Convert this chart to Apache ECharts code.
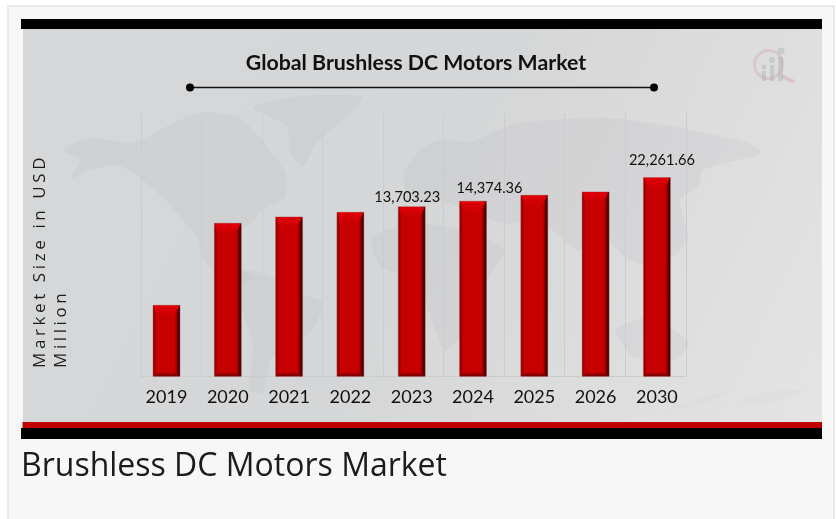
<!DOCTYPE html>
<html>
<head>
<meta charset="utf-8">
<title>Brushless DC Motors Market</title>
<script src="https://cdn.jsdelivr.net/npm/echarts@6/dist/echarts.min.js"></script>
<style>
  html, body { margin: 0; padding: 0; background: #fff; }
  #main { position: absolute; left: 0; top: 0; width: 836px; height: 519px; }
  .ytitle {
    position: absolute; left: 0; top: 0; white-space: nowrap;
    font: 17px "Open Sans", sans-serif; letter-spacing: 3.6px; color: #1c1c1c;
    transform-origin: 0 0; transform: rotate(-90deg);
  }
  .caption {
    position: absolute; left: 21px; top: 442px; white-space: nowrap;
    font: 32px "Open Sans", sans-serif; color: #1c1c1c;
  }
</style>
</head>
<body>
<div id="main"></div>
<div class="ytitle" style="left:27px;top:368px">Market Size in USD</div>
<div class="ytitle" style="left:48px;top:368px">Million</div>
<div class="caption">Brushless DC Motors Market</div>
<script>
const years = ['2019', '2020', '2021', '2022', '2023', '2024', '2025', '2026', '2030']
// the axis anchored on 2030. the printed labels of the
// source do not follow its bar heights, so they are kept apart
const barValues = [7960, 17150, 17860, 18380, 19010, 19620, 20290, 20660, 22261.66]
const printedLabels = ['', '', '', '', '13,703.23', '14,374.36', '', '', '22,261.66']

// label nudges from the bar centre, dx and gap above the bar top
const labelNudge = { 4: [-4.5, 9.5], 5: [16.5, 12.5], 8: [5, 17.5] }

const mapShapes = [
  // north america
  [[63,150],[90,138],[130,143],[150,136],[175,122],[205,112],[240,118],[262,140],[285,172],[285,197],[262,210],[253,222],[232,236],[222,252],[226,266],[252,276],[244,284],[222,276],[205,262],[197,238],[170,205],[143,180],[118,165],[90,170],[72,178],[80,160]],
  // greenland
  [[253,107],[300,96],[363,97],[345,118],[317,143],[303,167],[290,153],[287,127]],
  // south america
  [[240,270],[270,276],[300,293],[323,303],[310,333],[273,357],[262,393],[250,390],[253,343],[240,303]],
  // eurasia
  [[404,173],[420,150],[441,140],[470,142],[519,123],[611,118],[680,128],[749,143],[762,153],[703,170],[698,187],[680,200],[688,240],[657,267],[625,257],[597,230],[579,250],[542,223],[501,223],[441,200],[409,203]],
  // africa
  [[372,237],[418,223],[473,233],[505,250],[487,280],[473,323],[446,350],[427,307],[418,280],[381,267]],
  // australia
  [[615,330],[652,317],[689,343],[675,360],[634,357]]
]

const myChart = echarts.init(document.getElementById('main'))

const graphics = [
  { type: 'rect', z: -20, shape: { x: 7, y: 5, width: 828, height: 514 }, style: { fill: '#e9e9e9' } },
  { type: 'rect', z: -19, shape: { x: 9, y: 7, width: 824, height: 512 }, style: { fill: '#f7f7f7' } },
  {
    type: 'rect', z: -18,
    shape: { x: 23, y: 29, width: 799, height: 394 },
    style: {
      fill: new echarts.graphic.LinearGradient(0, 0, 1, 1, [
        { offset: 0, color: '#d6d7d8' },
        { offset: 0.5, color: '#d5d6d7' },
        { offset: 1, color: '#e4e4e4' }
      ])
    }
  },
  { type: 'polygon', z: -17, shape: { points: [[690, 400], [735, 390], [705, 405], [665, 410]] }, style: { fill: 'rgba(215,215,215,0.3)' } },
  { type: 'polygon', z: -17, shape: { points: [[765, 391], [805, 390], [770, 404], [735, 404]] }, style: { fill: 'rgba(215,215,215,0.3)' } },
  { type: 'rect', z: 5, shape: { x: 21, y: 19, width: 801, height: 10 }, style: { fill: '#000' } },
  { type: 'rect', z: 5, shape: { x: 22.5, y: 422, width: 799.5, height: 6 }, style: { fill: '#c00000' } },
  { type: 'rect', z: 5, shape: { x: 21, y: 428, width: 801, height: 11 }, style: { fill: '#000' } },
  { type: 'line', z: 5, shape: { x1: 190, y1: 87.5, x2: 654, y2: 87.5 }, style: { stroke: '#111', lineWidth: 1.5 } },
  { type: 'circle', z: 5, shape: { cx: 190, cy: 87.5, r: 4 }, style: { fill: '#000' } },
  { type: 'circle', z: 5, shape: { cx: 654, cy: 87.5, r: 4 }, style: { fill: '#000' } },
  // logo
  { type: 'circle', z: -15, shape: { cx: 768.5, cy: 64.5, r: 14 }, style: { fill: 'none', stroke: 'rgba(205,140,140,0.25)', lineWidth: 3 } },
  { type: 'line', z: -15, shape: { x1: 782, y1: 76, x2: 794, y2: 82 }, style: { stroke: 'rgba(205,140,140,0.3)', lineWidth: 4 } },
  { type: 'rect', z: -14, shape: { x: 762, y: 71, width: 4, height: 10 }, style: { fill: 'rgba(160,163,168,0.35)' } },
  { type: 'rect', z: -14, shape: { x: 770, y: 65, width: 4.5, height: 16 }, style: { fill: 'rgba(160,163,168,0.35)' } },
  { type: 'rect', z: -14, shape: { x: 778, y: 57, width: 5, height: 24 }, style: { fill: 'rgba(160,163,168,0.35)' } },
  { type: 'circle', z: -14, shape: { cx: 764, cy: 67, r: 2.5 }, style: { fill: 'rgba(160,163,168,0.35)' } },
  { type: 'circle', z: -14, shape: { cx: 772, cy: 60, r: 3 }, style: { fill: 'rgba(160,163,168,0.35)' } },
  { type: 'circle', z: -14, shape: { cx: 781, cy: 51, r: 3.5 }, style: { fill: 'rgba(160,163,168,0.35)' } }
]
mapShapes.forEach((points) => {
  graphics.push({ type: 'polygon', z: -16, shape: { points: points, smooth: 0.2 }, style: { fill: 'rgba(170,172,175,0.13)' } })
})

function drawBar(params, api) {
  const idx = api.value(0)
  const top = api.coord([idx, api.value(1)])
  const base = api.coord([idx, 0])
  const w = 27
  const x = top[0] - w / 2
  const y = top[1]
  const h = base[1] - y
  const children = [
    {
      type: 'rect',
      shape: { x: x, y: y, width: w, height: h },
      style: {
        fill: new echarts.graphic.LinearGradient(0, 0, 1, 0, [
          { offset: 0, color: '#7d0000' },
          { offset: 0.14, color: '#c60000' },
          { offset: 0.8, color: '#c80000' },
          { offset: 1, color: '#1c0000' }
        ]),
        stroke: 'rgba(190,80,80,0.7)',
        lineWidth: 0.6
      }
    },
    {
      type: 'polygon',
      shape: { points: [[x + 0.5, y + 0.5], [x + w - 0.5, y + 0.5], [x + w - 6, y + 11], [x + 4, y + 11]] },
      style: {
        fill: new echarts.graphic.LinearGradient(0, 0, 0, 1, [
          { offset: 0, color: '#e00008' },
          { offset: 1, color: '#c80000' }
        ])
      }
    },
    {
      type: 'polygon',
      shape: { points: [[x + 0.5, y + h], [x + w - 0.5, y + h], [x + w - 5, y + h - 4], [x + 4, y + h - 4]] },
      style: {
        fill: new echarts.graphic.LinearGradient(0, 0, 0, 1, [
          { offset: 0, color: '#c00000' },
          { offset: 1, color: '#6a0000' }
        ])
      }
    }
  ]
  const nudge = labelNudge[idx]
  if (nudge) {
    children.push({
      type: 'text',
      style: {
        text: printedLabels[idx],
        x: top[0] + nudge[0],
        y: y - nudge[1],
        align: 'center',
        verticalAlign: 'middle',
        font: '14.6px Lato',
        fill: '#111'
      }
    })
  }
  return { type: 'group', children: children }
}

const option = {
  animation: false,
  graphic: graphics,
  title: {
    text: 'Global Brushless DC Motors Market',
    left: 411,
    top: 48,
    textAlign: 'center',
    textStyle: { fontFamily: 'Lato', fontWeight: 'bold', fontSize: 21.3, color: '#111' }
  },
  grid: [
    { left: 135.85, width: 551.7, top: 113, height: 263.3 },
    { left: 140.8, width: 545, top: 113, height: 263.3 }
  ],
  xAxis: [
    {
      type: 'category',
      data: years,
      gridIndex: 0,
      axisLine: { show: false },
      axisTick: { show: false },
      axisLabel: { margin: 12, fontFamily: 'Lato', fontSize: 18, color: '#111' }
    },
    {
      type: 'value',
      gridIndex: 1,
      min: 0,
      max: 9,
      interval: 1,
      axisLine: { show: true, lineStyle: { color: '#cacbcc', width: 1 } },
      axisTick: { show: false },
      axisLabel: { show: false },
      splitLine: { show: true, lineStyle: { color: '#cbcccd', width: 1 } }
    }
  ],
  yAxis: [
    { type: 'value', gridIndex: 0, min: 0, max: 29500, show: false },
    { type: 'value', gridIndex: 1, min: 0, max: 1, show: false }
  ],
  series: [
    {
      type: 'custom',
      xAxisIndex: 0,
      yAxisIndex: 0,
      z: 3,
      encode: { x: 0, y: 1 },
      data: barValues.map((v, i) => [i, v]),
      renderItem: drawBar
    }
  ]
}
myChart.setOption(option)
</script>
</body>
</html>
